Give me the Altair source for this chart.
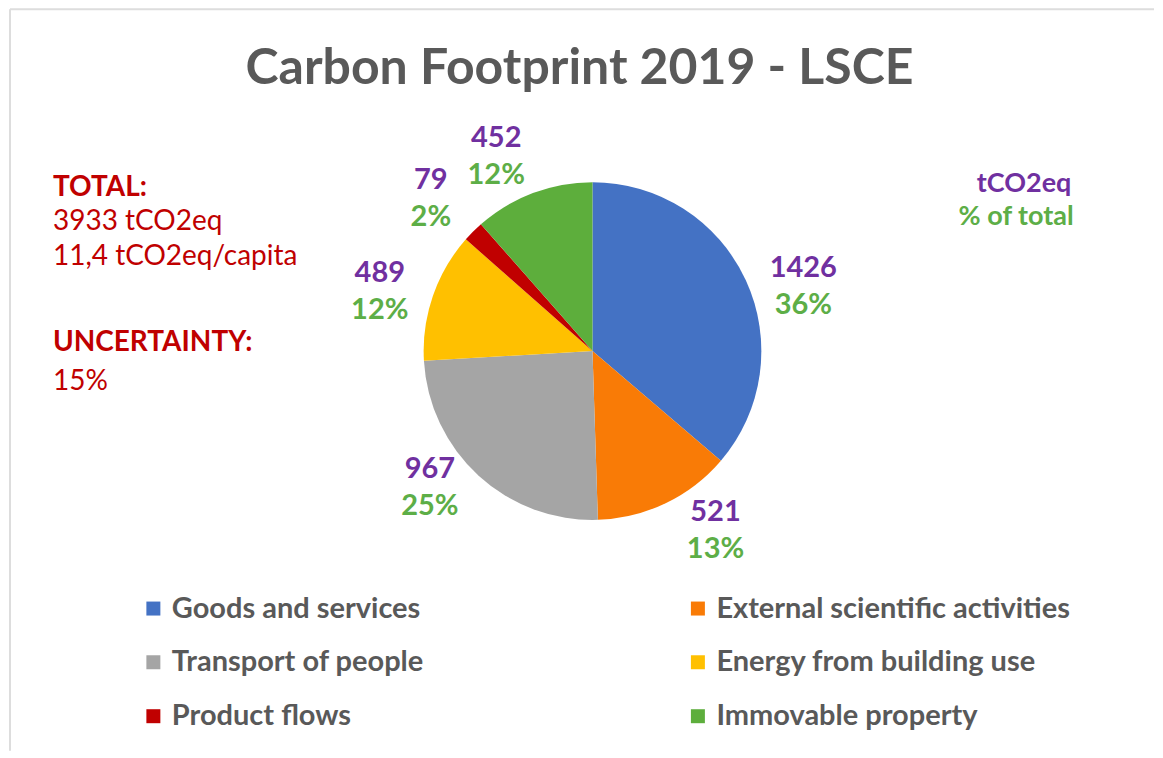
import altair as alt
import pandas as pd

categories = ["Goods and services", "External scientific activities", "Transport of people",
              "Energy from building use", "Product flows", "Immovable property"]
values = [1426, 521, 967, 489, 79, 452]
percents = ["36%", "13%", "25%", "12%", "2%", "12%"]
colors = ["#4472C4", "#F97B06", "#A5A5A5", "#FFC000", "#C00000", "#5DAE3C"]

title_text = "Carbon Footprint 2019 - LSCE"
total_head = "TOTAL:"
total_lines = ["3933 tCO2eq", "11,4 tCO2eq/capita"]
unc_head = "UNCERTAINTY:"
unc_lines = ["15%"]
key_value = "tCO2eq"
key_pct = "% of total"

FONT = "Lato"
PURPLE = "#7030A0"
GREEN = "#5DAE47"
RED = "#C00000"
GREY = "#595959"

df = pd.DataFrame({
    "category": categories,
    "value": values,
    "pct": percents,
    "order": list(range(len(categories))),
})

# legend is laid out column by column: reorder so it reads row by row
legend_domain = categories[0::2] + categories[1::2]
legend_range = colors[0::2] + colors[1::2]

CX, CY, R = 585, 342, 169
LR = 185

color = alt.Color(
    "category:N",
    scale=alt.Scale(domain=legend_domain, range=legend_range),
    legend=alt.Legend(
        title=None, orient="none", legendX=131, legendY=585, columns=2,
        columnPadding=259, rowPadding=24, symbolType="square", symbolSize=196,
        symbolStrokeWidth=0, labelFont=FONT, labelFontSize=29, labelFontWeight="bold",
        labelColor=GREY, labelOffset=4, labelLimit=600, padding=0,
    ),
)

pie = alt.Chart(df).mark_arc(outerRadius=R).encode(
    theta=alt.Theta("value:Q", stack=True), order=alt.Order("order:Q"), color=color,
    x=alt.value(CX), y=alt.value(CY),
)

label_base = alt.Chart(df).transform_joinaggregate(
    total="sum(value)"
).transform_window(
    cum="sum(value)", sort=[alt.SortField("order")]
).transform_calculate(
    mid="(datum.cum - datum.value / 2) / datum.total"
)
theta_mid = alt.Theta("mid:Q", scale=alt.Scale(domain=[0, 1]), stack=False)


def label_pair(cond, dx, dy):
    sub = label_base.transform_filter(cond)
    common = dict(font=FONT, fontSize=29, fontWeight="bold", align="center", baseline="middle", dx=dx)
    v = sub.mark_text(color=PURPLE, dy=dy - 18, **common).encode(
        theta=theta_mid, radius=alt.value(LR), x=alt.value(CX), y=alt.value(CY), text="value:Q")
    p = sub.mark_text(color=GREEN, dy=dy + 19, **common).encode(
        theta=theta_mid, radius=alt.value(LR), x=alt.value(CX), y=alt.value(CY), text="pct:N")
    return [v, p]


labels = (label_pair("datum.mid < 0.5", 43, 12)
          + label_pair("datum.mid >= 0.5 && datum.mid < 0.85", -38, 0)
          + label_pair("datum.mid >= 0.85", -31, -22))
label_layer = alt.layer(*labels)

one = pd.DataFrame({"a": [0]})


def txt(text, x, y, size, weight, col, align="left", lh=None):
    kw = dict(font=FONT, fontSize=size, fontWeight=weight, color=col, align=align, baseline="middle")
    if lh is not None:
        kw["lineHeight"] = lh
    return alt.Chart(one).mark_text(**kw).encode(text=alt.value(text), x=alt.value(x), y=alt.value(y))


title = txt(title_text, 572, 60, 50, "bold", GREY, align="center")
t1 = txt(total_head, 45, 179, 28, "bold", RED)
t2 = txt(total_lines, 45, 213, 28, "normal", RED, lh=35)
t3 = txt(unc_head, 45, 334, 28, "bold", RED)
t4 = txt(unc_lines, 45, 373, 28, "normal", RED)
k1 = txt(key_value, 1017, 175, 27, "bold", PURPLE, align="center")
k2 = txt(key_pct, 1009, 208, 27, "bold", GREEN, align="center")

border_top = alt.Chart(one).mark_rule(color="#DDDDDD", strokeWidth=2).encode(
    x=alt.value(2), x2=alt.value(1147), y=alt.value(0))
border_left = alt.Chart(one).mark_rule(color="#DDDDDD", strokeWidth=2).encode(
    x=alt.value(2), y=alt.value(0), y2=alt.value(742))

chart = alt.layer(border_top, border_left, pie, label_layer, title, t1, t2, t3, t4, k1, k2).resolve_scale(
    theta="independent"
).properties(
    width=1147, height=742, padding=0, background="white",
).configure_view(stroke=None)

chart.save("out.html", embed_options={"renderer": "svg", "actions": False})
